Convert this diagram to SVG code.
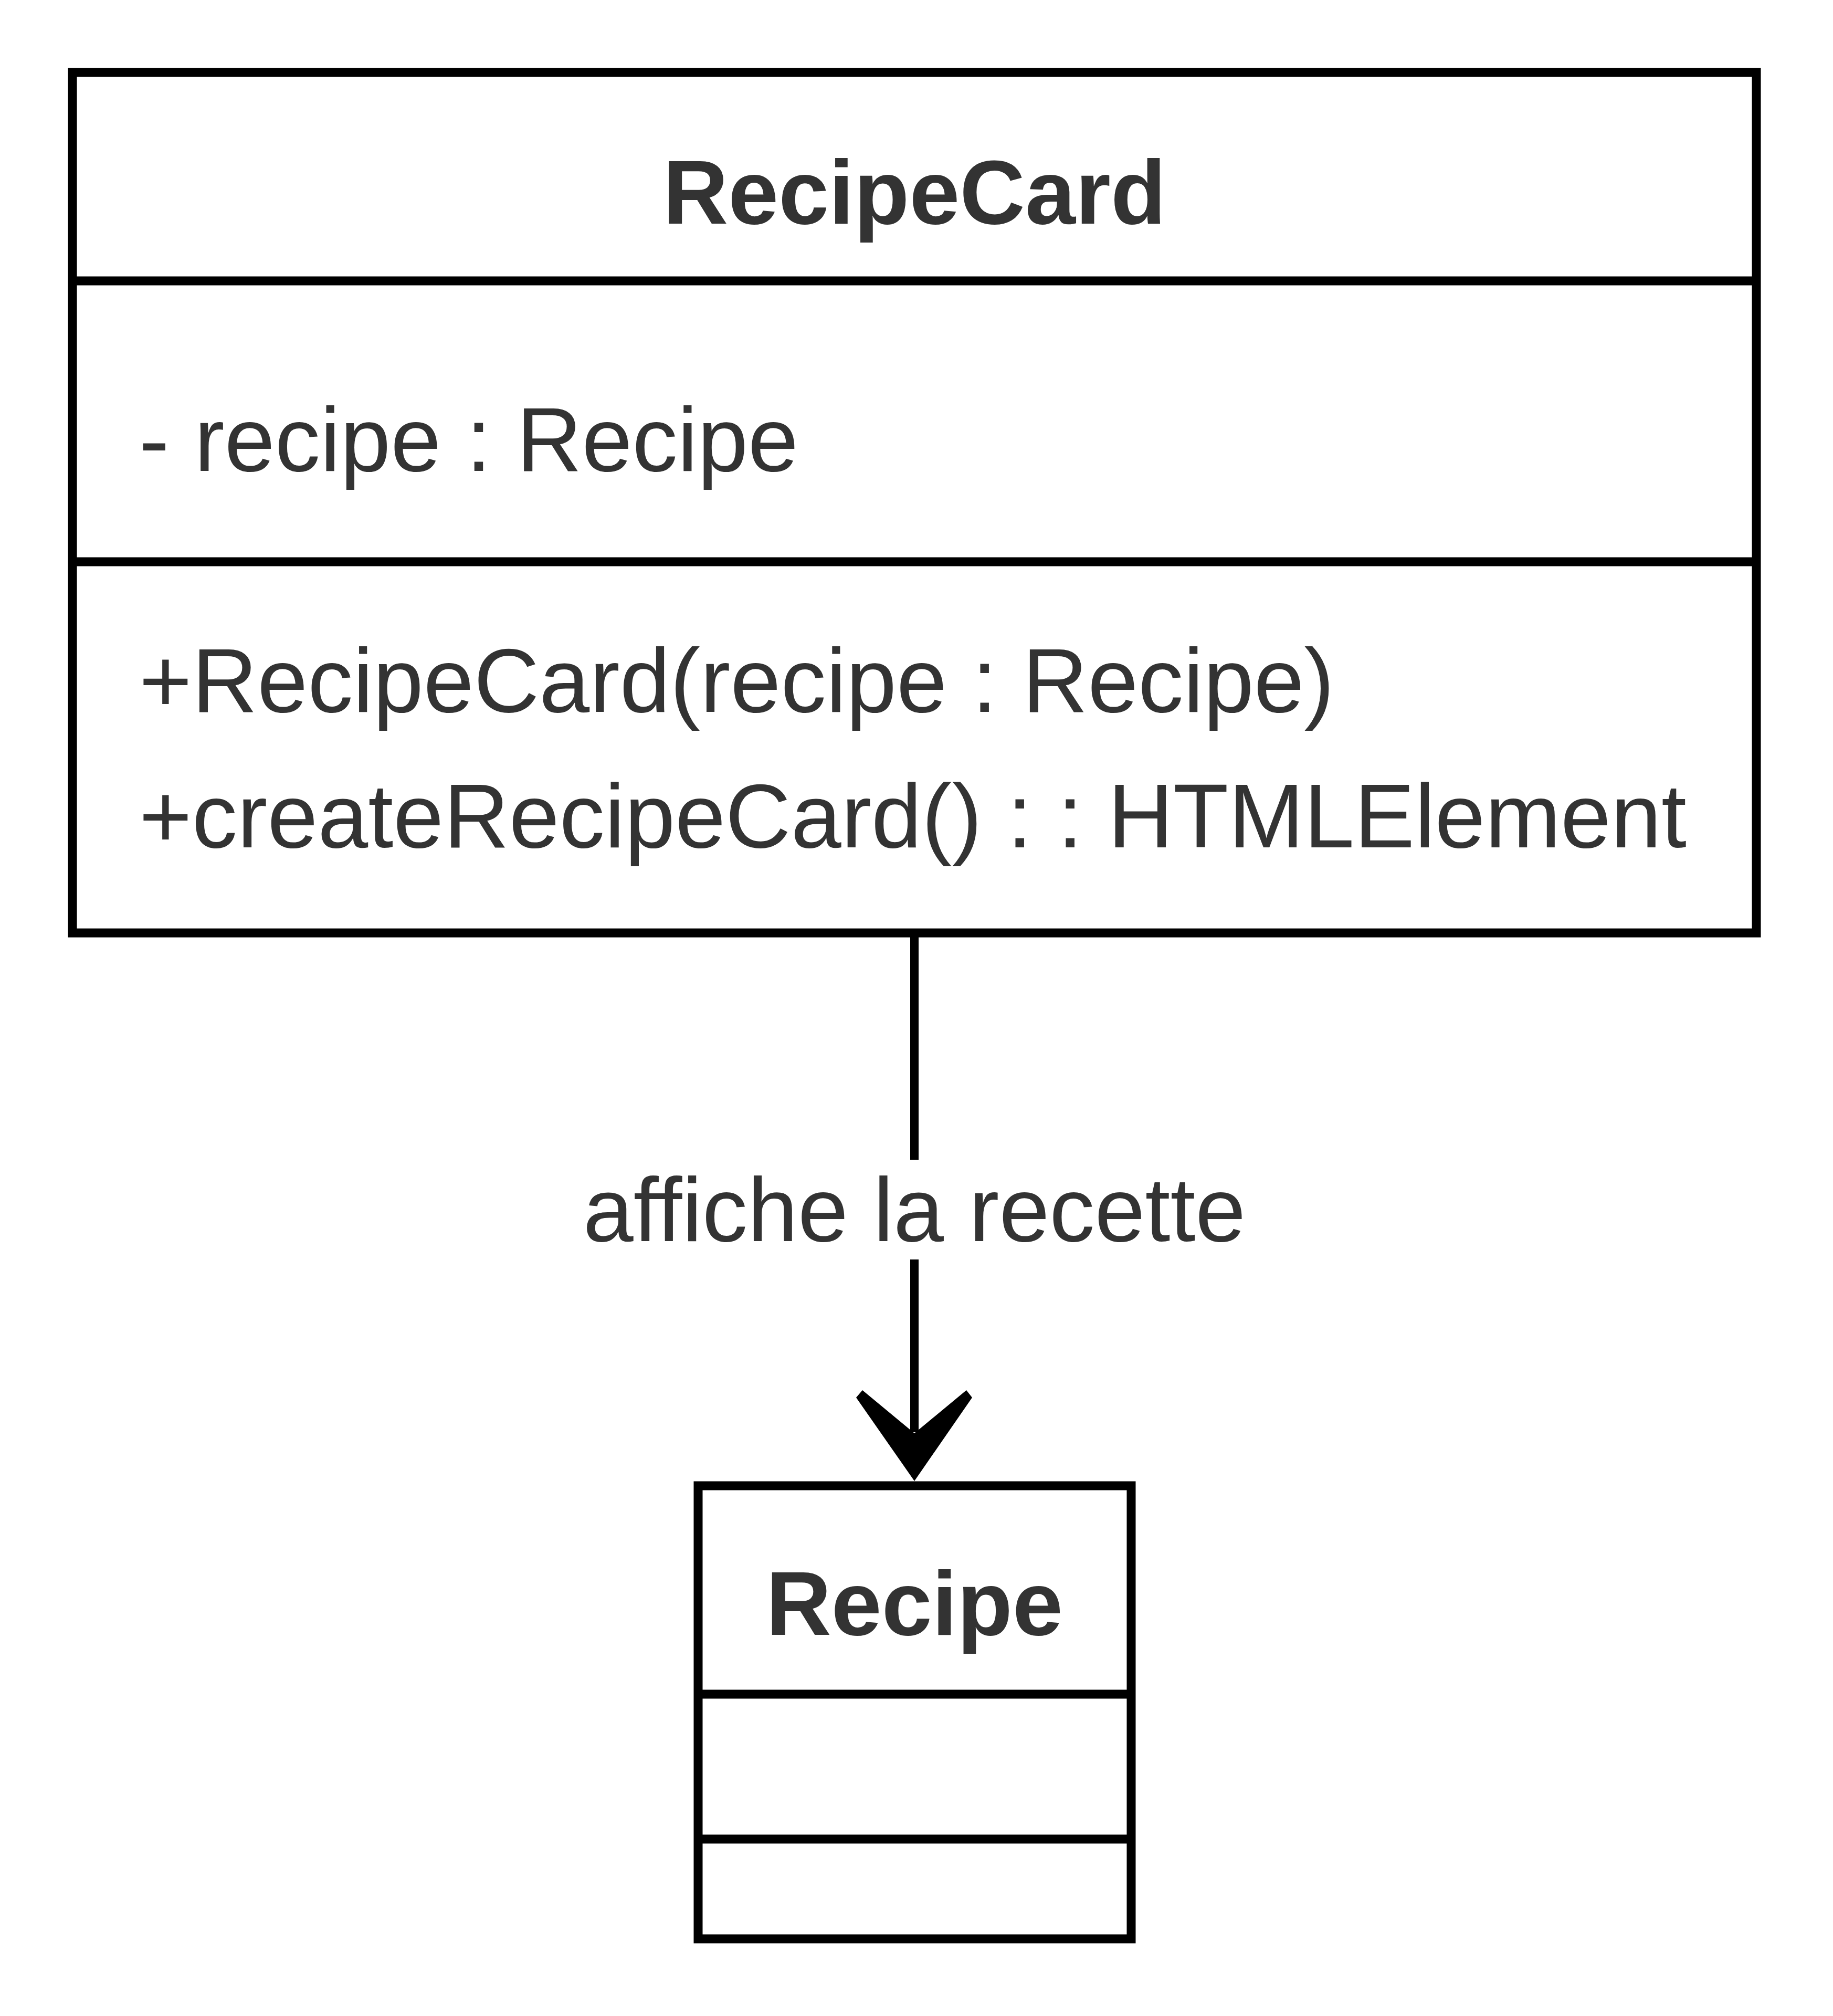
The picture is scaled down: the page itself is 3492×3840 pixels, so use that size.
<svg xmlns="http://www.w3.org/2000/svg" width="3492" height="3840" viewBox="0 0 3492 3840">
  <style>
    .box { fill: #ffffff; stroke: #000000; stroke-width: 17; }
    .div { stroke: #000000; stroke-width: 17; fill: none; }
    .title { font-family: "Liberation Sans", Arial, sans-serif; font-weight: bold; font-size: 172.5px; fill: #333333; text-anchor: middle; }
    .member { font-family: "Liberation Sans", Arial, sans-serif; font-size: 172.5px; fill: #333333; }
    .label { font-family: "Liberation Sans", Arial, sans-serif; font-size: 172.5px; fill: #333333; text-anchor: middle; }
    .edge { stroke: #000000; stroke-width: 16; fill: none; }
  </style>
  <rect width="3492" height="3840" fill="#ffffff"/>
  <g id="connectors">
    <line class="edge" x1="1742" y1="1777" x2="1742" y2="2728"/>
    <rect x="1100" y="2209" width="1285" height="190" fill="#ffffff"/>
    <text class="label" x="1742" y="2364">affiche la recette</text>
    <polygon points="1742,2821 1631,2662 1643,2648 1742,2730 1841,2648 1852,2662" fill="#000000"/>
  </g>
  <g id="RecipeCard">
    <rect class="box" x="138" y="138" width="3208" height="1639"/>
    <line class="div" x1="138" y1="535" x2="3346" y2="535"/>
    <line class="div" x1="138" y1="1070" x2="3346" y2="1070"/>
    <text class="title" x="1742" y="426">RecipeCard</text>
    <text class="member" x="265" y="897">- recipe : Recipe</text>
    <text class="member" x="265" y="1356">+RecipeCard(recipe : Recipe)</text>
    <text class="member" x="265" y="1614">+createRecipeCard() : : HTMLElement</text>
  </g>
  <g id="Recipe">
    <rect class="box" x="1330" y="2830" width="825" height="863"/>
    <line class="div" x1="1330" y1="3227" x2="2155" y2="3227"/>
    <line class="div" x1="1330" y1="3503" x2="2155" y2="3503"/>
    <text class="title" x="1742" y="3114">Recipe</text>
  </g>
</svg>
